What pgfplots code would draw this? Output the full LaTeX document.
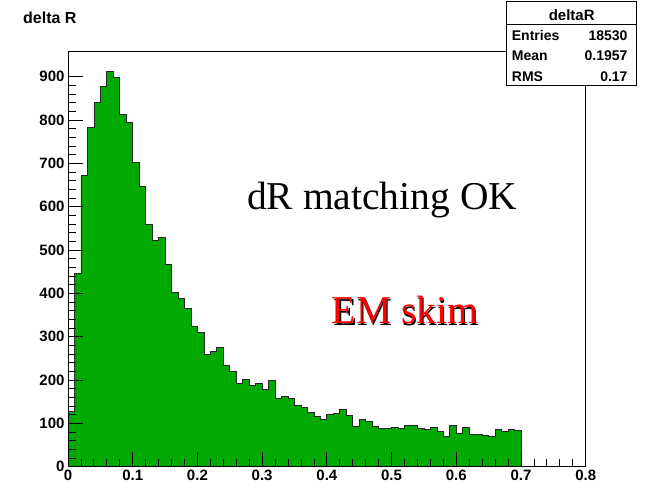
\documentclass[border=0pt]{standalone}
\usepackage{fontspec}
\setmainfont{Liberation Sans}
\newfontfamily\serifff{Liberation Serif}
\usepackage{pgfplots}
\pgfplotsset{compat=1.18}
\definecolor{rootgreen}{RGB}{0,170,0}
\begin{document}
\begin{tikzpicture}
\useasboundingbox (0,0) rectangle (645pt,490pt);
\begin{axis}[
  at={(68pt,23.3pt)}, anchor=south west,
  scale only axis, width=517.7pt, height=415pt,
  xmin=0, xmax=0.8, ymin=0, ymax=958,
  xtick={0,0.1,0.2,0.3,0.4,0.5,0.6,0.7,0.8},
  xticklabels={0,0.1,0.2,0.3,0.4,0.5,0.6,0.7,0.8},
  ytick={0,100,200,300,400,500,600,700,800,900},
  minor x tick num=4, minor y tick num=4,
  tick align=inside, tick pos=left,
  major tick length=15pt, minor tick length=7.5pt,
  axis line style={black, line width=0.8pt},
  every tick/.style={black, line width=0.8pt},
  tick label style={font=\fontsize{15}{15}\selectfont\bfseries},
  /pgf/number format/assume math mode=true,
  scaled ticks=false,
  axis on top,
]
\addplot[const plot, fill=rootgreen, draw=black!85, line width=0.7pt] table {
x y
0.00 128
0.01 446
0.02 672
0.03 783
0.04 840
0.05 877
0.06 912
0.07 899
0.08 813
0.09 794
0.10 702
0.11 648
0.12 560
0.13 522
0.14 529
0.15 467
0.16 402
0.17 388
0.18 365
0.19 325
0.20 310
0.21 260
0.22 267
0.23 275
0.24 234
0.25 219
0.26 192
0.27 202
0.28 188
0.29 193
0.30 178
0.31 200
0.32 157
0.33 162
0.34 157
0.35 142
0.36 137
0.37 126
0.38 117
0.39 110
0.40 121
0.41 123
0.42 132
0.43 118
0.44 94
0.45 110
0.46 105
0.47 94
0.48 89
0.49 89
0.50 91
0.51 89
0.52 95
0.53 95
0.54 89
0.55 86
0.56 91
0.57 81
0.58 69
0.59 96
0.60 78
0.61 91
0.62 75
0.63 75
0.64 72
0.65 69
0.66 86
0.67 81
0.68 86
0.69 83
0.70 83
} \closedcycle;
\end{axis}
% title
\node[anchor=base west, inner sep=0] at (23pt,466.7pt) {\fontsize{16}{16}\selectfont\bfseries delta R};
% annotations
\node[anchor=base west, inner sep=0] at (247pt,280.7pt) {\serifff\fontsize{39.5}{40}\selectfont dR matching OK};
\node[anchor=base west, inner sep=0, black] at (333pt,164.8pt) {\serifff\fontsize{39.5}{40}\selectfont EM skim};
\node[anchor=base west, inner sep=0, red] at (331.7pt,166pt) {\serifff\fontsize{39.5}{40}\selectfont EM skim};
% stats box
\draw[fill=white, line width=0.8pt] (506pt,488.3pt) rectangle (636.7pt,405pt);
\draw[line width=0.8pt] (506pt,466pt) -- (636.7pt,466pt);
\node[anchor=base, inner sep=0] at (571.7pt,469.5pt) {\fontsize{15}{15}\selectfont\bfseries deltaR};
\node[anchor=base west, inner sep=0] at (511.7pt,449.5pt) {\fontsize{14}{14}\selectfont\bfseries Entries};
\node[anchor=base east, inner sep=0] at (627.7pt,449.5pt) {\fontsize{14}{14}\selectfont\bfseries 18530};
\node[anchor=base west, inner sep=0] at (511.7pt,429pt) {\fontsize{14}{14}\selectfont\bfseries Mean};
\node[anchor=base east, inner sep=0] at (627.7pt,429pt) {\fontsize{14}{14}\selectfont\bfseries 0.1957};
\node[anchor=base west, inner sep=0] at (511.7pt,408.5pt) {\fontsize{14}{14}\selectfont\bfseries RMS};
\node[anchor=base east, inner sep=0] at (627.7pt,408.5pt) {\fontsize{14}{14}\selectfont\bfseries 0.17};
\end{tikzpicture}
\end{document}
